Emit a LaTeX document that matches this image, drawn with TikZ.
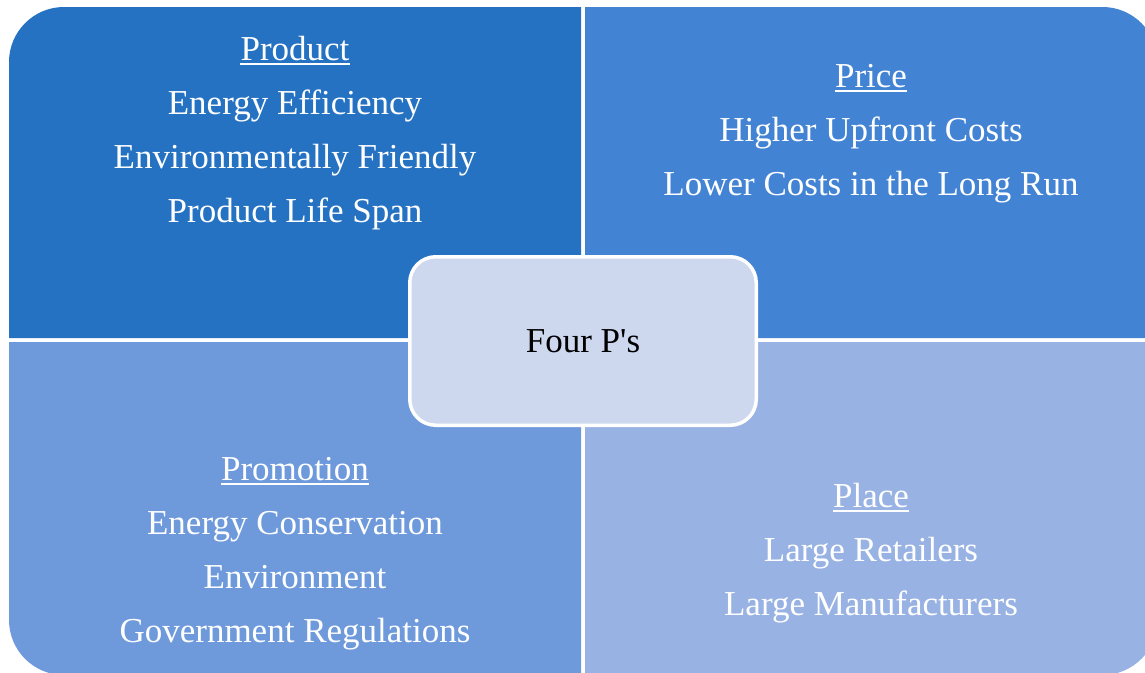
\documentclass[tikz,border=0pt]{standalone}
\usepackage{fontspec}
\setmainfont{Liberation Serif}
\definecolor{qTL}{HTML}{2672C2}
\definecolor{qTR}{HTML}{4283D4}
\definecolor{qBL}{HTML}{6E9ADC}
\definecolor{qBR}{HTML}{97B2E3}
\definecolor{qC}{HTML}{CDD8EE}
\begin{document}
\begin{tikzpicture}[x=1pt,y=-1pt,
  txt/.style={text=white,font=\fontsize{35}{40}\selectfont,anchor=base,inner sep=0pt},
  ulink/.style={draw=white,line width=2.3pt}]
\useasboundingbox (0,0) rectangle (1145,672);
\begin{scope}
\clip (0,0) rectangle (1145,672);
\fill[qTL] (9,338) [rounded corners=55pt] -- (9,7) [sharp corners] -- (581,7) -- (581,338) -- cycle;
\fill[qTR] (585,338) -- (585,7) [rounded corners=55pt] -- (1157.5,7) [sharp corners] -- (1157.5,338) -- cycle;
\fill[qBL] (581,342) -- (581,675) [rounded corners=55pt] -- (9,675) [sharp corners] -- (9,342) -- cycle;
\fill[qBR] (585,342) -- (1157.5,342) [rounded corners=55pt] -- (1157.5,675) [sharp corners] -- (585,675) -- cycle;
\end{scope}
% Product
\node[txt] (h1) at (295,60) {Product};
\draw[ulink] ([yshift=-4pt]h1.base west) -- ([yshift=-4pt]h1.base east);
\node[txt] (a1) at (295,114) {Energy Efficiency};
\node[txt] (a2) at (295,168) {Environmentally Friendly};
\node[txt] (a3) at (295,222) {Product Life Span};
% Price
\node[txt] (h2) at (871,87) {Price};
\draw[ulink] ([yshift=-4pt]h2.base west) -- ([yshift=-4pt]h2.base east);
\node[txt] (b1) at (871,141) {Higher Upfront Costs};
\node[txt] (b2) at (871,195) {Lower Costs in the Long Run};
% Promotion
\node[txt] (h3) at (295,480) {Promotion};
\draw[ulink] ([yshift=-4pt]h3.base west) -- ([yshift=-4pt]h3.base east);
\node[txt] (c1) at (295,534) {Energy Conservation};
\node[txt] (c2) at (295,588) {Environment};
\node[txt] (c3) at (295,642) {Government Regulations};
% Place
\node[txt] (h4) at (871,507) {Place};
\draw[ulink] ([yshift=-4pt]h4.base west) -- ([yshift=-4pt]h4.base east);
\node[txt] (d1) at (871,561) {Large Retailers};
\node[txt] (d2) at (871,615) {Large Manufacturers};
% centre
\node[draw=white,line width=3.5pt,fill=qC,rounded corners=26pt,
  minimum width=346.5pt,minimum height=168.5pt,inner sep=0pt,
  font=\fontsize{35}{40}\selectfont] (c) at (583,341) {Four P\textquotesingle s};
\end{tikzpicture}
\end{document}
